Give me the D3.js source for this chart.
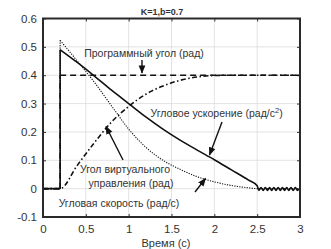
<!DOCTYPE html>
<html lang="ru">
<head>
<meta charset="utf-8">
<title>K=1,b=0.7</title>
<script src="https://cdn.jsdelivr.net/npm/d3@7"></script>
<style>
  body { margin: 0; background: #fff; }
  svg text { font-family: "Liberation Sans", Arial, sans-serif; fill: #333; }
</style>
</head>
<body>
<script>
// данные
const xTicks = [0, 0.5, 1, 1.5, 2, 2.5, 3];
const yTicks = [-0.1, 0, 0.1, 0.2, 0.3, 0.4, 0.5, 0.6];
const xTickLabels = ["0", "0.5", "1", "1.5", "2", "2.5", "3"];
const yTickLabels = ["-0.1", "0", "0.1", "0.2", "0.3", "0.4", "0.5", "0.6"];

// программный угол (пунктир)
const progT = [0, 0.2, 0.2, 3.0];
const progV = [0, 0, 0.4, 0.4];

// угловое ускорение (сплошная)
const accT = [0, 0.2, 0.2, 0.4, 0.6, 0.8, 1.0, 1.2, 1.4, 1.6, 1.8, 2.0, 2.2, 2.4, 2.5,
  2.52, 2.545, 2.57, 2.595, 2.62, 2.645, 2.67, 2.695, 2.72, 2.745, 2.77, 2.795, 2.82, 2.845, 2.87, 2.895, 2.92, 2.945, 2.97, 3.0];
const accV = [0, 0, 0.49, 0.445, 0.397, 0.347, 0.30, 0.253, 0.21, 0.171, 0.136, 0.102, 0.066, 0.03, 0.01,
  -0.006, 0.004, -0.006, 0.004, -0.006, 0.004, -0.006, 0.004, -0.006, 0.004, -0.006, 0.004, -0.006, 0.004, -0.006, 0.004, -0.006, 0.004, -0.006, 0.002];

// угловая скорость (точки)
const velT = [0, 0.2, 0.2, 0.4, 0.6, 0.8, 1.0, 1.2, 1.4, 1.6, 1.8, 2.0, 2.2, 2.4, 2.5, 3.0];
const velV = [0, 0, 0.523, 0.45, 0.375, 0.292, 0.21, 0.146, 0.1, 0.068, 0.042, 0.024, 0.011, 0.003, 0, 0];

// угол виртуального управления (штрих-пунктир)
const virtT = [0, 0.2, 0.4, 0.6, 0.8, 1.0, 1.2, 1.4, 1.6, 1.8, 2.0, 2.2, 2.5, 3.0];
const virtV = [0, 0, 0.082, 0.162, 0.235, 0.29, 0.333, 0.362, 0.382, 0.394, 0.399, 0.4, 0.4, 0.4];

const w = 331, h = 249;
const mLeft = 43, mRight = 300, mTop = 18.5, mBottom = 217;

const x = d3.scaleLinear().domain([0, 3]).range([mLeft, mRight]);
const y = d3.scaleLinear().domain([-0.1, 0.6]).range([mBottom, mTop]);

const svg = d3.select("body").append("svg")
  .attr("width", w).attr("height", h);

// сетка
svg.append("g").selectAll("line").data(xTicks).join("line")
  .attr("x1", d => x(d)).attr("x2", d => x(d))
  .attr("y1", mTop).attr("y2", mBottom)
  .attr("stroke", "#dcdcdc").attr("stroke-width", 0.8);
svg.append("g").selectAll("line").data(yTicks).join("line")
  .attr("x1", mLeft).attr("x2", mRight)
  .attr("y1", d => y(d)).attr("y2", d => y(d))
  .attr("stroke", "#dcdcdc").attr("stroke-width", 0.8);

// оси с засечками внутрь
const axB = svg.append("g").attr("transform", `translate(0,${mBottom})`)
  .call(d3.axisBottom(x).tickValues(xTicks).tickSize(-3).tickPadding(8).tickFormat((d, i) => xTickLabels[i]));
const axT = svg.append("g").attr("transform", `translate(0,${mTop})`)
  .call(d3.axisTop(x).tickValues(xTicks).tickSize(-3).tickFormat(""));
const axL = svg.append("g").attr("transform", `translate(${mLeft},0)`)
  .call(d3.axisLeft(y).tickValues(yTicks).tickSize(-3).tickPadding(6).tickFormat((d, i) => yTickLabels[i]));
const axR = svg.append("g").attr("transform", `translate(${mRight},0)`)
  .call(d3.axisRight(y).tickValues(yTicks).tickSize(-3).tickFormat(""));
[axB, axT, axL, axR].forEach(g => {
  g.select(".domain").remove();
  g.selectAll(".tick line").attr("stroke", "#333");
  g.selectAll("text").attr("font-size", 11.5).attr("fill", "#444")
    .style("font-family", "'Liberation Sans', Arial, sans-serif");
});

svg.append("clipPath").attr("id", "clip").append("rect")
  .attr("x", mLeft).attr("y", mTop).attr("width", mRight - mLeft).attr("height", mBottom - mTop);

const plot = svg.append("g").attr("clip-path", "url(#clip)");

// рисуем серию: скачки (одинаковое t) рисуются прямыми, остальное гладко
function drawSeries(ts, vs, style) {
  const pts = ts.map((t, i) => [t, vs[i]]);
  const segs = [];
  let cur = [pts[0]];
  for (let i = 1; i < pts.length; i++) {
    if (pts[i][0] === pts[i - 1][0]) {
      segs.push({ p: cur, c: d3.curveMonotoneX });
      segs.push({ p: [pts[i - 1], pts[i]], c: d3.curveLinear });
      cur = [pts[i]];
    } else {
      cur.push(pts[i]);
    }
  }
  segs.push({ p: cur, c: d3.curveMonotoneX });
  segs.forEach(s => {
    if (s.p.length < 2) return;
    plot.append("path")
      .attr("d", d3.line().x(d => x(d[0])).y(d => y(d[1])).curve(s.c)(s.p))
      .attr("fill", "none")
      .attr("stroke", "#111")
      .attr("stroke-width", style.width)
      .attr("stroke-linejoin", "round")
      .attr("stroke-dasharray", style.dash);
  });
}

drawSeries(virtT, virtV, { width: 1.6, dash: "5,2.5,1.5,2.5" });
drawSeries(progT, progV, { width: 1.5, dash: "6,4" });
drawSeries(velT, velV, { width: 1.1, dash: "1.2,1.3" });
drawSeries(accT, accV, { width: 1.6, dash: null });

// рамка
svg.append("rect")
  .attr("x", mLeft).attr("y", mTop).attr("width", mRight - mLeft).attr("height", mBottom - mTop)
  .attr("fill", "none").attr("stroke", "#2a2a2a").attr("stroke-width", 2);

// стрелки
svg.append("defs").append("marker")
  .attr("id", "arr").attr("viewBox", "0 0 10 10")
  .attr("refX", 9).attr("refY", 5)
  .attr("markerWidth", 6).attr("markerHeight", 6)
  .attr("orient", "auto-start-reverse")
  .append("path").attr("d", "M0,1 L10,5 L0,9 Z").attr("fill", "#111");

const arrows = [
  [142, 60, 142, 73],
  [222, 122, 209.5, 155],
  [123, 160, 106, 126.5],
  [195, 192, 205.5, 178.5]
];
svg.append("g").selectAll("line").data(arrows).join("line")
  .attr("x1", d => d[0]).attr("y1", d => d[1])
  .attr("x2", d => d[2]).attr("y2", d => d[3])
  .attr("stroke", "#111").attr("stroke-width", 1.4)
  .attr("marker-end", "url(#arr)");

// подписи
const lab = (tx, ty, s, anchor) => svg.append("text")
  .attr("x", tx).attr("y", ty).attr("font-size", 10.5)
  .attr("text-anchor", anchor || "middle").text(s);

lab(144, 56.5, "Программный угол (рад)");
const acc = lab(150.5, 117, "Угловое ускорение (рад/с", "start");
acc.append("tspan").attr("dy", -4).attr("font-size", 7.5).text("2");
acc.append("tspan").attr("dy", 4).text(")");
lab(125, 172.5, "Угол виртуального");
lab(131, 186.5, "управления (рад)");
lab(119, 207, "Угловая скорость (рад/с)");

svg.append("text")
  .attr("x", 162).attr("y", 15).attr("font-size", 9).attr("font-weight", "bold")
  .attr("text-anchor", "middle").attr("fill", "#333").text("K=1,b=0.7");

svg.append("text")
  .attr("x", 166).attr("y", 247).attr("font-size", 11)
  .attr("text-anchor", "middle").text("Время (с)");
</script>
</body>
</html>
